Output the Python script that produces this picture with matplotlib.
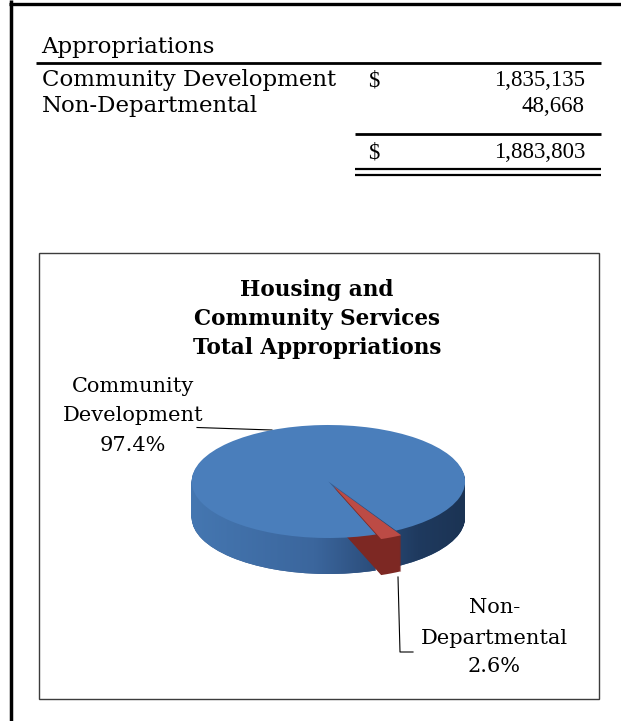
import matplotlib
matplotlib.use('Agg')
import matplotlib.pyplot as plt
import numpy as np
from matplotlib.path   import Path
from matplotlib.colors import LinearSegmentedColormap
from matplotlib.patches import Rectangle

# Dados da tabela / pizza
categorias   = ['Community Development', 'Non-Departmental']
valores      = [1835135, 48668]
rotulosPizza = [['Community', 'Development'], ['Non-', 'Departmental']]
titulo       = ['Housing and', 'Community Services', 'Total Appropriations']
cabecalho    = 'Appropriations'

total = sum(valores)
fracoes = [v / total for v in valores]

fonteTexto = 'DejaVu Serif'
fonteNum   = 'Liberation Serif'

fig = plt.figure(figsize=(6.21, 7.21), dpi=100)

# Eixo da pagina, em pixels (y para baixo)
ax = fig.add_axes([0, 0, 1, 1])
ax.set_xlim(0, 621)
ax.set_ylim(721, 0)
ax.axis('off')

# Bordas da pagina
ax.plot([11, 11], [0, 721], color='black', lw=2.5, solid_capstyle='butt')
ax.plot([9.3, 621], [4, 4], color='black', lw=2.4, solid_capstyle='butt')

# Tabela
ax.text(41.6, 53, cabecalho, fontsize=16.5, family=fonteTexto, va='baseline')
ax.plot([36, 601], [63.3, 63.3], color='black', lw=2.0, solid_capstyle='butt')
linhasY = [86, 112]
for i, (nome, valor) in enumerate(zip(categorias, valores)):
    ax.text(41.6, linhasY[i], nome, fontsize=16.5, family=fonteTexto, va='baseline')
    if i == 0:
        ax.text(368, linhasY[i], '$', fontsize=16.5, family=fonteNum, va='baseline')
    ax.text(585, linhasY[i], f'{valor:,}', fontsize=16.5, family=fonteNum, va='baseline', ha='right')
ax.plot([355, 601], [134, 134], color='black', lw=2.0, solid_capstyle='butt')
ax.text(368, 158, '$', fontsize=16.5, family=fonteNum, va='baseline')
ax.text(585, 158, f'{total:,}', fontsize=16.5, family=fonteNum, va='baseline', ha='right')
ax.plot([355, 601], [169, 169], color='black', lw=1.6, solid_capstyle='butt')
ax.plot([355, 601], [174.5, 174.5], color='black', lw=1.6, solid_capstyle='butt')

# Moldura do grafico
ax.add_patch(Rectangle((38.5, 252.7), 560.5, 446.3, fill=False, edgecolor='#3c3c3c', lw=1.0))

# Titulo do grafico
for texto, y in zip(titulo, [296, 325, 354]):
    ax.text(317, y, texto, fontsize=15.5, family=fonteTexto, weight='bold', ha='center', va='baseline')

# Rotulos das fatias
rotuloX = [133, 494.5]
rotuloY = [[392, 421, 451], [613, 644, 672]]
for i in range(2):
    linhas = rotulosPizza[i] + [f'{fracoes[i] * 100:.1f}%']
    for texto, y in zip(linhas, rotuloY[i]):
        ax.text(rotuloX[i], y, texto, fontsize=15, family=fonteTexto, ha='center', va='baseline')

# Linhas de chamada
ax.plot([197, 272], [427.5, 430], color='black', lw=0.8)
ax.plot([398, 400, 413], [577, 652, 652], color='black', lw=0.8)

# Pizza 3D (elipse + camadas laterais)
cx, cy = 328.4, 481.5     # centro em pixels
a, b   = 136.7, 56.5      # semi-eixos em pixels
profPx = 36               # espessura em pixels
caixa  = (170, 400, 500, 610)
axPie = fig.add_axes([caixa[0] / 621, (721 - caixa[3]) / 721,
                      (caixa[2] - caixa[0]) / 621, (caixa[3] - caixa[1]) / 721])
prof = profPx / b

explosao = [0, 0.09]
inicio = -65 - 360 * fracoes[0] - 180 * fracoes[1]

azulTopo        = '#4a7ebb'
azulLateral     = '#33598a'
vermelhoTopo    = '#bc4b45'
vermelhoLateral = '#7d2823'
cmapLateral = LinearSegmentedColormap.from_list(
    'lateral', [(0, '#4577b1'), (0.45, '#3b669d'), (0.68, '#2a4b78'), (0.82, '#1f3a5f'), (1, '#1b3353')])

nCamadas = 36
caminhos = []
for k in range(nCamadas, 0, -1):
    fatias, _ = axPie.pie(valores, explode=explosao, startangle=inicio, center=(0, -prof * k / nCamadas),
                          colors=[azulLateral, 'none'], wedgeprops=dict(linewidth=0, zorder=1))
    caminhos.append(fatias[0].get_path())

gradiente = np.linspace(0, 1, 256).reshape(1, -1)
im = axPie.imshow(gradiente, cmap=cmapLateral, extent=(-1.02, 1.02, -prof - 1.1, 0.2),
                  aspect='auto', zorder=1.5, interpolation='bilinear')
im.set_clip_path(Path.make_compound_path(*caminhos), axPie.transData)

for k in range(nCamadas, 0, -1):
    axPie.pie(valores, explode=explosao, startangle=inicio, center=(0, -prof * k / nCamadas),
              colors=['none', vermelhoLateral], wedgeprops=dict(linewidth=0, zorder=2))

axPie.pie(valores, explode=explosao, startangle=inicio,
          colors=[azulTopo, vermelhoTopo], wedgeprops=dict(linewidth=0, zorder=3))

axPie.set_aspect('auto')
axPie.set_xlim((caixa[0] - cx) / a, (caixa[2] - cx) / a)
axPie.set_ylim((cy - caixa[3]) / b, (cy - caixa[1]) / b)
axPie.axis('off')

fig.savefig('out.png', dpi=100)
